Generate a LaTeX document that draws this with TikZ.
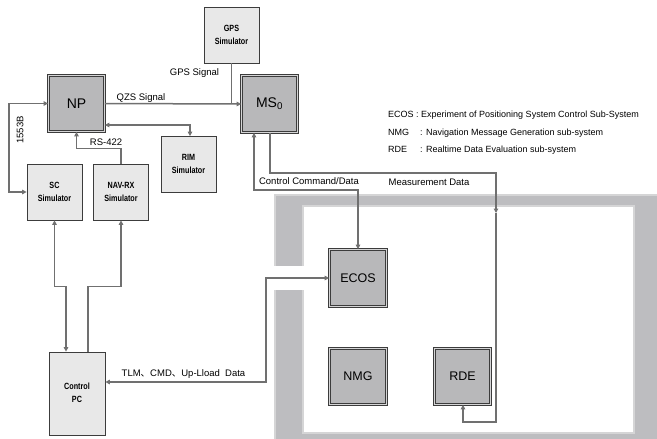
\documentclass[tikz,border=0pt]{standalone}
\usepackage{fontspec}
\setmainfont{Liberation Sans}
\newfontfamily\cjk{Noto Sans CJK SC}
\usetikzlibrary{arrows.meta}
\definecolor{linegray}{HTML}{707070}
\definecolor{boxdark}{HTML}{3C3C3C}
\definecolor{midfill}{HTML}{B8B8BA}
\definecolor{lightfill}{HTML}{E8E8E8}
\definecolor{bandfill}{HTML}{BDBDC0}
\newcommand{\simtext}[1]{\scalebox{0.8}[1]{\fontsize{9}{13}\selectfont\bfseries\begin{tabular}{@{}c@{}}#1\end{tabular}}}
\begin{document}
\begin{tikzpicture}[x=1pt,y=-1pt,
  simbox/.style={draw=boxdark,line width=0.7pt,fill=lightfill,minimum width=55pt,minimum height=56pt,inner sep=0pt,align=center},
  dbl/.style={draw=boxdark,line width=0.7pt,double=lightfill!60!midfill,double distance=1.5pt},
  mainbox/.style={dbl,fill=midfill,minimum width=55pt,minimum height=55pt,inner sep=0pt,font=\fontsize{12.5}{14}\selectfont},
  conn/.style={draw=linegray,line width=1.5pt,arrows={-Triangle[length=4.5pt,width=4.5pt]}},
  biconn/.style={draw=linegray,line width=1.5pt,arrows={Triangle[length=4.5pt,width=4.5pt]-Triangle[length=4.5pt,width=4.5pt]}},
  lbl/.style={font=\fontsize{9.5}{11}\selectfont,inner sep=0pt},
  legend/.style={font=\fontsize{9}{11}\selectfont,inner sep=0pt,anchor=west}
]
\useasboundingbox (0,0) rectangle (657,439);
% big frame
\fill[bandfill] (275,195) rectangle (680,460);
\draw[dbl] (275,460) -- (275,195) -- (680,195);
\fill[white] (303,206) rectangle (634,433);
\draw[dbl] (303,206) rectangle (634,433);
\fill[white] (272,266) rectangle (306,290);

% nodes
\node[simbox] (gps) at (231.5,35) {\simtext{GPS\\Simulator}};
\node[mainbox,minimum width=56pt,minimum height=56pt,font=\fontsize{14}{16}\selectfont] (np) at (76.5,103.5) {NP};
\node[mainbox,minimum width=56pt,minimum height=57pt,font=\fontsize{14}{16}\selectfont] (ms) at (269.5,104) {MS$_{\mathrm{0}}$};
\node[simbox] (rim) at (188.5,164.5) {\simtext{RIM\\Simulator}};
\node[simbox] (sc) at (54.5,192) {\simtext{SC\\Simulator}};
\node[simbox] (nav) at (121,192) {\simtext{NAV-RX\\Simulator}};
\node[simbox,minimum width=56pt,minimum height=83pt] (pc) at (77,393.5) {\simtext{Control\\PC}};
\node[mainbox,minimum width=57pt,minimum height=57pt] (ecos) at (358,278) {ECOS};
\node[mainbox,minimum width=57pt,minimum height=56pt] (nmg) at (358,376.5) {NMG};
\node[mainbox,minimum width=56pt,minimum height=56pt] (rde) at (462.5,376.5) {RDE};

\coordinate (mdown) at (496,213);
\coordinate (mturn) at (496,422);

% connectors
\draw[conn] (np.east) -- (ms.west);
\draw[draw=linegray,line width=1.5pt] (gps.south) -- (gps.south |- ms.west);
\draw[biconn] (np.west) -- ++(-39,0) |- (sc.west);
\draw[biconn] ([yshift=-21.5pt]np.east) -| ([xshift=1.5pt]rim.north);
\draw[conn] (nav.north) -- ++(0,-15) -| (np.south);
\draw[biconn] ([xshift=-15.5pt]ms.south) -- ++(0,57) -| (ecos.north);
\draw[conn] ([xshift=0.5pt]ms.south) -- ++(0,40) -| (mdown);
\draw[conn] (mdown) -- (mturn) -| ([xshift=0.5pt]rde.south);
\draw[biconn] (ecos.west) -- ++(-63,0) |- ([yshift=11.5pt]pc.east);
\draw[biconn] (sc.south) -- ++(0,66) -| ([xshift=-11pt]pc.north);
\draw[conn,arrows={Triangle[length=4.5pt,width=4.5pt]-}] (nav.south) -- ++(0,66) -| ([xshift=11pt]pc.north);

% labels
\node[lbl] (lgps) at (194.5,73) {GPS Signal};
\node[lbl] (lqzs) at (141,98) {QZS Signal};
\node[lbl] (lrs) at (106,142) {RS-422};
\node[lbl,rotate=90] (l1553) at (20,130) {1553B};
\node[lbl] (lcmd) at (309,181) {Control Command/Data};
\node[lbl] (lmeas) at (429,182) {Measurement Data};
\node[lbl] (ltlm) at (183.5,374) {TLM{\cjk 、}CMD{\cjk 、}Up-Lload\ \ Data};

\node[legend] (leg1) at (388,115) {ECOS : Experiment of Positioning System Control Sub-System};
\node[legend] (leg2) at (388,133) {\makebox[32pt][l]{NMG}: Navigation Message Generation sub-system};
\node[legend] (leg3) at (388,150) {\makebox[32pt][l]{RDE}: Realtime Data Evaluation sub-system};
\end{tikzpicture}
\end{document}
